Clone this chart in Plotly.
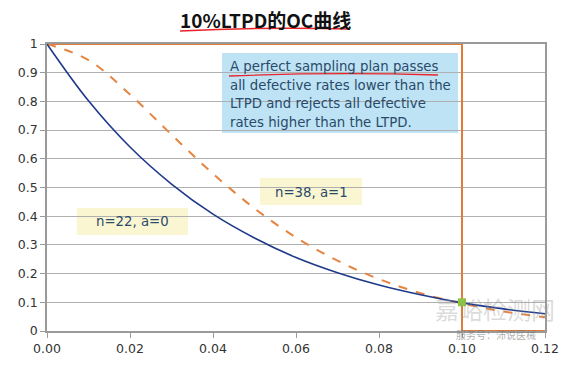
import plotly.graph_objects as go

# Data
p_values = [0.00, 0.01, 0.02, 0.03, 0.04, 0.05, 0.06, 0.07, 0.08, 0.09, 0.10, 0.11, 0.12]
pa_n22_a0 = [1.000, 0.802, 0.641, 0.512, 0.407, 0.324, 0.256, 0.203, 0.160, 0.126, 0.098, 0.077, 0.060]
pa_n38_a1 = [1.000, 0.944, 0.824, 0.684, 0.548, 0.427, 0.326, 0.245, 0.181, 0.132, 0.096, 0.068, 0.048]
perfect_x = [0.00, 0.10, 0.10, 0.12]
perfect_y = [1.0, 1.0, 0.0, 0.0]
ltpd_point = (0.10, 0.10)
x_ticks = [0.00, 0.02, 0.04, 0.06, 0.08, 0.10, 0.12]
x_tick_labels = ["0.00", "0.02", "0.04", "0.06", "0.08", "0.10", "0.12"]
y_ticks = [0, 0.1, 0.2, 0.3, 0.4, 0.5, 0.6, 0.7, 0.8, 0.9, 1]
y_tick_labels = ["0", "0.1", "0.2", "0.3", "0.4", "0.5", "0.6", "0.7", "0.8", "0.9", "1"]
note_lines = ["A perfect sampling plan passes",
              "all defective rates lower than the",
              "LTPD and rejects all defective",
              "rates higher than the LTPD."]

W, H = 580, 369
L, R, T, B = 47, 35, 44, 38
pw, ph = W - L - R, H - T - B

def px(x):
    return (x - L) / pw

def py(y):
    return (H - B - y) / ph

TXT = "#2A4A6A"
FONT = "DejaVu Sans"

fig = go.Figure()
fig.add_trace(go.Scatter(x=perfect_x, y=perfect_y, mode="lines",
                         line=dict(color="#E27B35", width=2), cliponaxis=False,
                         hoverinfo="skip", showlegend=False))
fig.add_trace(go.Scatter(x=p_values, y=pa_n38_a1, mode="lines",
                         line=dict(color="#E58541", width=2, dash="dash", shape="spline"),
                         showlegend=False))
fig.add_trace(go.Scatter(x=p_values, y=pa_n22_a0, mode="lines",
                         line=dict(color="#1F3A8A", width=1.6, shape="spline"),
                         showlegend=False))
fig.add_trace(go.Scatter(x=[ltpd_point[0]], y=[ltpd_point[1]], mode="markers",
                         marker=dict(symbol="square", size=8, color="#8CC63F"),
                         cliponaxis=False, showlegend=False))

shapes = [
    dict(type="rect", xref="paper", yref="paper", x0=px(222), x1=px(458), y0=py(133), y1=py(53),
         fillcolor="#BEE3F4", line=dict(width=0), layer="below"),
    dict(type="rect", xref="paper", yref="paper", x0=px(260), x1=px(362), y0=py(205), y1=py(178),
         fillcolor="#FBF6D2", line=dict(width=0), layer="below"),
    dict(type="rect", xref="paper", yref="paper", x0=px(77), x1=px(188), y0=py(235), y1=py(208),
         fillcolor="#FBF6D2", line=dict(width=0), layer="below"),
    dict(type="path", xref="paper", yref="paper",
         path=f"M {px(180)},{py(31)} Q {px(260)},{py(27)} {px(350)},{py(29)}",
         line=dict(color="#E8242A", width=1.5)),
    dict(type="path", xref="paper", yref="paper",
         path=f"M {px(229)},{py(76)} Q {px(330)},{py(72)} {px(438)},{py(75)}",
         line=dict(color="#E8242A", width=1.3)),
]

annotations = [
    dict(text="<b>10%LTPD的OC曲线</b>", xref="paper", yref="paper", x=px(265), y=py(19),
         showarrow=False, font=dict(family="Noto Sans CJK SC", size=19, color="#111111"),
         xanchor="center", yanchor="middle"),
    dict(text="n=38, a=1", xref="paper", yref="paper", x=px(311), y=py(192),
         xanchor="center", yanchor="middle",
         showarrow=False, font=dict(family=FONT, size=13.3, color=TXT)),
    dict(text="n=22, a=0", xref="paper", yref="paper", x=px(132), y=py(221),
         xanchor="center", yanchor="middle",
         showarrow=False, font=dict(family=FONT, size=13.3, color=TXT)),
    dict(text="嘉峪检测网", xref="paper", yref="paper", x=px(495), y=py(308),
         xanchor="center", yanchor="middle",
         showarrow=False, font=dict(family="Noto Sans CJK SC", size=24, color="rgba(150,150,150,0.35)")),
    dict(text="服务号：沛说医械", xref="paper", yref="paper", x=px(496), y=py(334),
         xanchor="center", yanchor="middle",
         showarrow=False, font=dict(family="Noto Sans CJK SC", size=10, color="rgba(120,120,120,0.6)")),
]
for i, line in enumerate(note_lines):
    annotations.append(dict(text=line, xref="paper", yref="paper", x=px(228), y=py(66 + 19 * i),
                            xanchor="left", yanchor="middle", showarrow=False,
                            font=dict(family=FONT, size=13.3, color=TXT)))

fig.update_layout(
    width=W, height=H,
    margin=dict(l=L, r=R, t=T, b=B),
    paper_bgcolor="white", plot_bgcolor="white",
    shapes=shapes, annotations=annotations,
    xaxis=dict(range=[0, 0.12], tickvals=x_ticks, ticktext=x_tick_labels,
               showgrid=False, zeroline=False, showline=True, linecolor="#9A9A9A",
               linewidth=1.5, mirror=True, ticks="outside", tickcolor="#9A9A9A", ticklen=5,
               tickfont=dict(family=FONT, size=12.5, color="#333333")),
    yaxis=dict(range=[0, 1], tickvals=y_ticks, ticktext=y_tick_labels,
               showgrid=True, gridcolor="#B0B0B0", gridwidth=1.2, zeroline=False,
               showline=True, linecolor="#9A9A9A", linewidth=1.5, mirror=True,
               ticks="outside", tickcolor="#9A9A9A", ticklen=5,
               tickfont=dict(family=FONT, size=12.5, color="#333333")),
)

fig.write_html("out.html", config={"displayModeBar": False},
               post_script="document.body.style.margin='0';")
